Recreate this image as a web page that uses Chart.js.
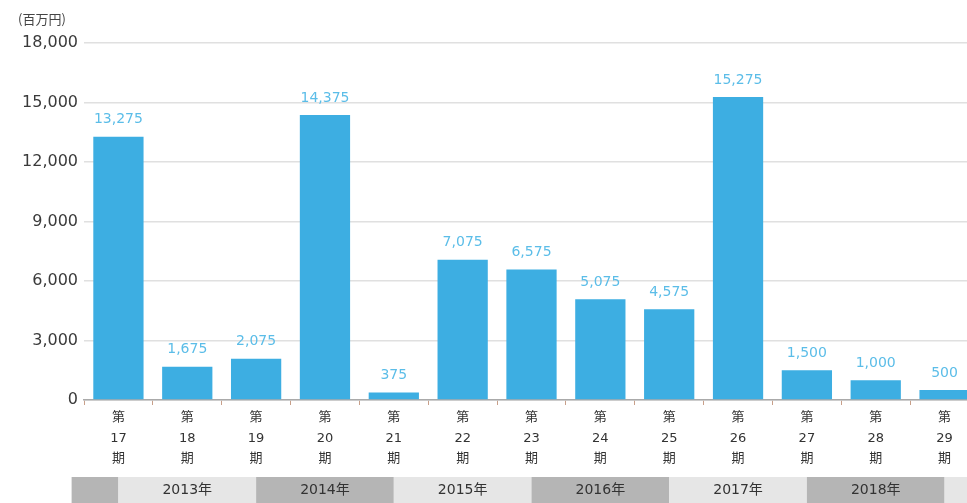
<!DOCTYPE html>
<html>
<head>
<meta charset="utf-8">
<script src="https://cdn.jsdelivr.net/npm/chart.js@4.4.1/dist/chart.umd.min.js"></script>
<style>
	html, body { margin: 0; padding: 0; background: #fff; }
	#wrap { width: 967px; height: 503px; overflow: hidden; }
</style>
</head>
<body>
<div id="wrap"><canvas id="bars" width="979" height="503"></canvas></div>
<script>
// 期ごとの金額（百万円）
const periods = ['17', '18', '19', '20', '21', '22', '23', '24', '25', '26', '27', '28', '29'];
const amounts = [13275, 1675, 2075, 14375, 375, 7075, 6575, 5075, 4575, 15275, 1500, 1000, 500];
const yTicks = [0, 3000, 6000, 9000, 12000, 15000, 18000];

// 年の帯: 区切り位置（カテゴリ番号）と表示名
const yearEdges = [-0.68, 0, 2, 4, 6, 8, 10, 12, 13.5];
const yearNames = ['', '2013年', '2014年', '2015年', '2016年', '2017年', '2018年', ''];

const FONT = '"DejaVu Sans", "Noto Sans CJK JP", sans-serif';
const JP_FONT = '"Noto Sans CJK JP", sans-serif';

const fmt = v => v.toLocaleString('en-US');

const extras = {
	id: 'extras',
	afterDatasetsDraw(chart) {
		const ctx = chart.ctx;
		const meta = chart.getDatasetMeta(0);
		ctx.save();
		// 値ラベル
		ctx.font = '14px ' + FONT;
		ctx.fillStyle = '#5bbde8';
		ctx.textAlign = 'center';
		ctx.textBaseline = 'middle';
		meta.data.forEach((bar, i) => {
			ctx.fillText(fmt(amounts[i]), bar.x, bar.y - 17);
		});
		ctx.restore();
	},
	afterDraw(chart) {
		const ctx = chart.ctx;
		const x = chart.scales.x;
		ctx.save();
		// 単位
		ctx.font = '13px ' + JP_FONT;
		ctx.fillStyle = '#444';
		ctx.textAlign = 'left';
		ctx.textBaseline = 'middle';
		ctx.fillText('(百万円)', 18, 19);

		// 年の帯
		const top = 477, h = 26;
		ctx.font = '14px ' + FONT;
		ctx.textAlign = 'center';
		for (let i = 0; i < yearNames.length; i++) {
			const x0 = x.getPixelForValue(yearEdges[i]);
			const x1 = x.getPixelForValue(yearEdges[i + 1]);
			ctx.fillStyle = i % 2 === 0 ? '#b5b5b5' : '#e6e6e6';
			ctx.fillRect(x0, top, x1 - x0, h);
			if (yearNames[i]) {
				ctx.fillStyle = '#333';
				ctx.fillText(yearNames[i], (x0 + x1) / 2, top + h / 2);
			}
		}
		ctx.restore();
	}
};

const bars_ctx = document.getElementById('bars').getContext('2d');

const bars_chart = new Chart(bars_ctx, {
	type: 'bar',
	data: {
		labels: periods.map(p => ['第', p, '期']),
		datasets: [{
			label: '金額',
			data: amounts,
			backgroundColor: '#3daee2',
			borderWidth: 0,
			categoryPercentage: 1,
			barPercentage: 0.73
		}]
	},
	options: {
		responsive: false,
		animation: false,
		layout: {
			padding: { top: 43, right: 0, bottom: 0, left: 0 }
		},
		plugins: {
			legend: { display: false },
			tooltip: { enabled: false }
		},
		scales: {
			x: {
				offset: true,
				afterFit: s => { s.height = 103; },
				grid: {
					offset: true,
					drawOnChartArea: false,
					drawTicks: true,
					tickLength: 5,
					color: '#c8a08a'
				},
				border: { color: '#aaa', width: 1.5 },
				ticks: {
					color: '#333',
					padding: 3,
					maxRotation: 0,
					autoSkip: false,
					font: { family: FONT, size: 13, lineHeight: 1.55 }
				}
			},
			y: {
				min: 0,
				max: 18000,
				afterFit: s => { s.width = 84; },
				afterBuildTicks: s => { s.ticks = yTicks.map(v => ({ value: v })); },
				grid: {
					color: '#e0e0e0',
					lineWidth: 1.5,
					drawTicks: false
				},
				border: { display: false },
				ticks: {
					color: '#3a3a3a',
					padding: 6,
					font: { family: FONT, size: 16 },
					callback: v => fmt(v)
				}
			}
		}
	},
	plugins: [extras]
});
</script>
</body>
</html>
